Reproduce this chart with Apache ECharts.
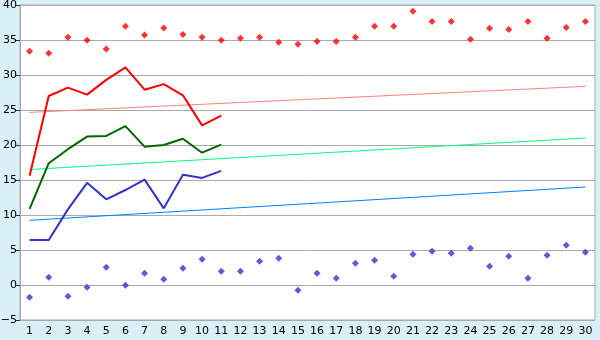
<!DOCTYPE html>
<html><head><meta charset="utf-8">
<script src="https://cdn.jsdelivr.net/npm/echarts@6/dist/echarts.min.js"></script>
<style>html,body{margin:0;padding:0;background:#DAF0F7;}#c{width:600px;height:340px;}</style>
</head><body><div id="c"></div>
<script>
const categories = ['1','2','3','4','5','6','7','8','9','10','11','12','13','14','15','16','17','18','19','20','21','22','23','24','25','26','27','28','29','30'];
const redPoints = [33.4,33.1,35.4,34.95,33.7,36.95,35.7,36.7,35.8,35.4,34.95,35.24,35.4,34.67,34.38,34.8,34.8,35.4,36.95,36.95,39.1,37.66,37.66,35.1,36.67,36.5,37.66,35.24,36.8,37.66];
const bluePoints = [-1.76,1.1,-1.62,-0.33,2.52,-0.05,1.67,0.81,2.38,3.67,1.95,1.95,3.38,3.81,-0.76,1.67,0.95,3.1,3.52,1.24,4.38,4.81,4.52,5.24,2.67,4.1,0.95,4.24,5.67,4.67];
const redLine = [15.6,27.0,28.2,27.2,29.3,31.1,27.9,28.7,27.1,22.8,24.2];
const greenLine = [10.86,17.4,19.4,21.2,21.3,22.7,19.76,20.0,20.9,18.9,20.05];
const blueLine = [6.43,6.43,10.8,14.6,12.24,13.57,15.05,10.95,15.76,15.3,16.3];
const redTrend = [24.66,28.38];
const greenTrend = [16.5,21.0];
const blueTrend = [9.24,14.0];
const yTicks = [-5,0,5,10,15,20,25,30,35,40];

function trend(ends){
  const d = categories.map(()=>null);
  d[0]=ends[0]; d[d.length-1]=ends[1];
  return d;
}
const chart = echarts.init(document.getElementById('c'), null, {renderer:'canvas'});
const lbl = {fontFamily:'DejaVu Sans', fontSize:11, color:'#000'};
chart.setOption({
  animation:false,
  backgroundColor:'#DAF0F7',
  grid:{left:20,top:5,right:5,bottom:20,containLabel:false,outerBoundsMode:'none',show:true,backgroundColor:'#fff',borderColor:'#AAAAAA',borderWidth:1},
  xAxis:{type:'category',data:categories,boundaryGap:true,
    axisLine:{lineStyle:{color:'#AAAAAA'}},
    axisTick:{alignWithLabel:true,length:5,lineStyle:{color:'#333'}},
    axisLabel:Object.assign({margin:6,interval:0},lbl),
    splitLine:{show:false}},
  yAxis:{type:'value',min:yTicks[0],max:yTicks[yTicks.length-1],interval:5,
    axisLine:{show:true,lineStyle:{color:'#AAAAAA'}},
    axisTick:{show:true,length:4,lineStyle:{color:'#333'}},
    axisLabel:Object.assign({margin:3,formatter:v=>String(v).replace('-','\u2212')},lbl),
    splitLine:{lineStyle:{color:'#AAAAAA',width:1}}},
  series:[
    {type:'line',data:trend(redTrend),connectNulls:true,symbol:'none',lineStyle:{color:'#FF8080',width:1}},
    {type:'line',data:trend(greenTrend),connectNulls:true,symbol:'none',lineStyle:{color:'#00FF80',width:1}},
    {type:'line',data:trend(blueTrend),connectNulls:true,symbol:'none',lineStyle:{color:'#0080FF',width:1}},
    {type:'line',data:redLine,symbol:'none',lineStyle:{color:'#FF0000',width:2}},
    {type:'line',data:greenLine,symbol:'none',lineStyle:{color:'#006600',width:2}},
    {type:'line',data:blueLine,symbol:'none',lineStyle:{color:'#3333CC',width:2}},
    {type:'scatter',data:redPoints,symbol:'diamond',symbolSize:7,itemStyle:{color:'#FF0000'}},
    {type:'scatter',data:bluePoints,symbol:'diamond',symbolSize:7,itemStyle:{color:'#3333CC'}}
  ]
});
</script></body></html>
